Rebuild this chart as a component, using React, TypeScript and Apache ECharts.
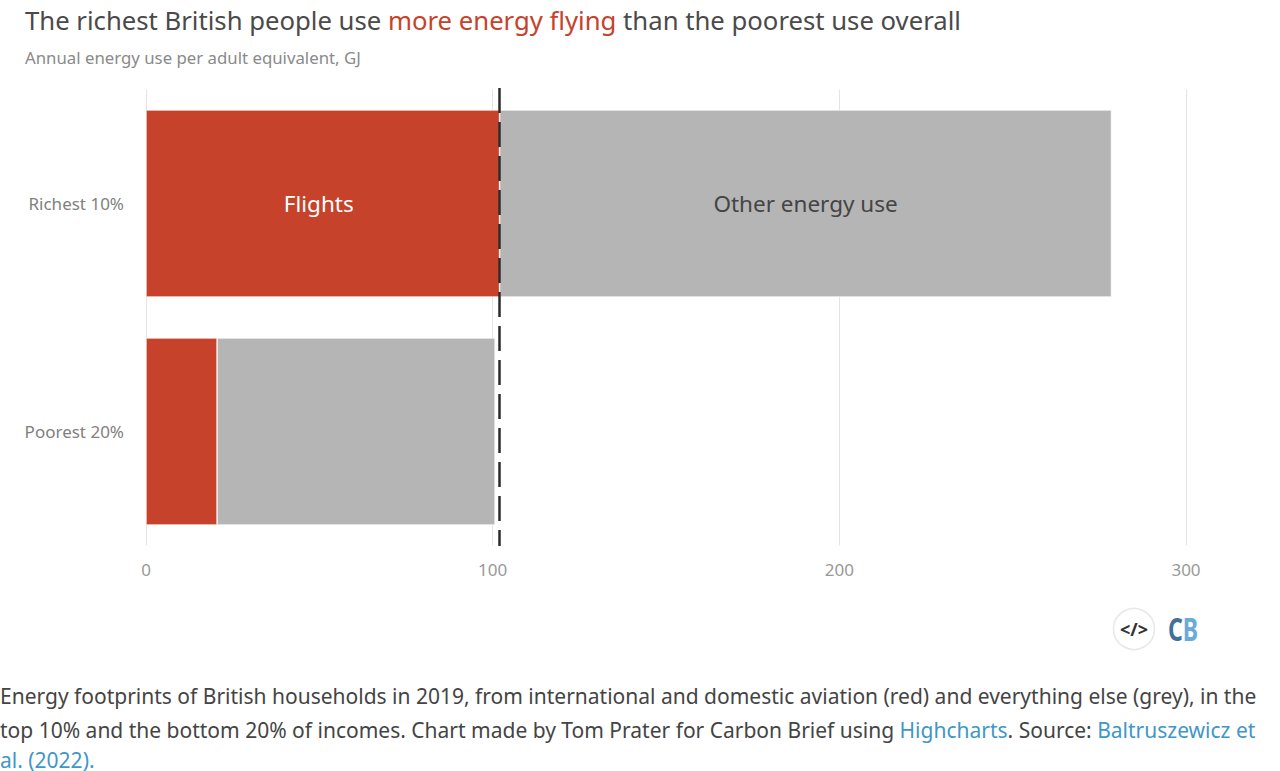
import React, { useEffect, useRef } from "react";
import * as echarts from "echarts";

const categories = ["Richest 10%", "Poorest 20%"];
const flights = [102, 20.5];
const otherEnergy = [176.5, 80.2];
const referenceValue = 102;
const xTicks = [0, 100, 200, 300];
const FONT = "'Noto Sans', sans-serif";

export default function App() {
  const ref = useRef<HTMLDivElement>(null);
  useEffect(() => {
    document.body.style.margin = "0";
    const chart = echarts.init(ref.current!, undefined, { renderer: "svg" });
    chart.setOption({
      animation: false,
      backgroundColor: "#ffffff",
      textStyle: { fontFamily: FONT },
      grid: { left: 146, right: 94, top: 89.5, bottom: 225.5, containLabel: false },
      xAxis: {
        type: "value",
        min: xTicks[0],
        max: xTicks[xTicks.length - 1],
        interval: 100,
        axisLine: { show: false },
        axisTick: { show: false },
        splitLine: { show: true, lineStyle: { color: "#e4e4e4", width: 1 } },
        axisLabel: { color: "#999999", fontSize: 17, fontFamily: FONT, margin: 15 },
      },
      yAxis: {
        type: "category",
        inverse: true,
        data: categories,
        axisLine: { show: false },
        axisTick: { show: false },
        axisLabel: { color: "#808080", fontSize: 17, fontFamily: FONT, margin: 22 },
      },
      series: [
        {
          name: "Flights",
          type: "bar",
          stack: "energy",
          barWidth: 187,
          data: [
            {
              value: flights[0],
              label: { show: true, position: "inside", formatter: "{a}", color: "#ffffff", fontSize: 22.5, fontFamily: FONT, offset: [-4, 0] },
            },
            flights[1],
          ],
          itemStyle: { color: "#c7422a", borderColor: "#ffffff", borderWidth: 0.6 },
          markLine: {
            silent: true,
            symbol: "none",
            label: { show: false },
            lineStyle: { color: "#2b2b2b", type: [25, 9], width: 2.5 },
            data: [[{ xAxis: referenceValue, y: 88 }, { xAxis: referenceValue, y: 546 }]],
          },
        },
        {
          name: "Other energy use",
          type: "bar",
          stack: "energy",
          barWidth: 187,
          data: [
            {
              value: otherEnergy[0],
              label: { show: true, position: "inside", formatter: "{a}", color: "#444444", fontSize: 22.5, fontFamily: FONT },
            },
            otherEnergy[1],
          ],
          itemStyle: { color: "#b5b5b5", borderColor: "#ffffff", borderWidth: 0.6 },
        },
      ],
      graphic: [
        {
          type: "text",
          x: 25,
          y: 7,
          style: {
            text: "{a|The richest British people use }{b|more energy flying}{a| than the poorest use overall}",
            rich: {
              a: { fill: "#4a4a4a", fontSize: 25.7, fontFamily: FONT },
              b: { fill: "#c7422a", fontSize: 25.7, fontFamily: FONT },
            },
          },
        },
        { type: "text", x: 25, y: 49, style: { text: "Annual energy use per adult equivalent, GJ", fill: "#8a8a8a", fontSize: 16.8, fontFamily: FONT } },
        { type: "circle", shape: { cx: 1134, cy: 629, r: 20.5 }, style: { fill: "#ffffff", stroke: "#e8e8e8", lineWidth: 1.5 } },
        { type: "text", x: 1134, y: 629, style: { text: "</>", fill: "#333333", fontSize: 18, fontWeight: "bold", fontFamily: FONT, align: "center", verticalAlign: "middle" } },
        {
          type: "text",
          x: 1168,
          y: 612,
          scaleX: 0.7,
          style: {
            text: "{c|C}{d|B}",
            rich: {
              c: { fill: "#3f7199", fontSize: 33, fontWeight: "bold", fontFamily: FONT },
              d: { fill: "#69abd9", fontSize: 33, fontWeight: "bold", fontFamily: FONT },
            },
          },
        },
        { type: "text", x: 0, y: 685, style: { text: "Energy footprints of British households in 2019, from international and domestic aviation (red) and everything else (grey), in the", fill: "#444444", fontSize: 21, fontFamily: FONT } },
        {
          type: "text",
          x: 0,
          y: 719,
          style: {
            text: "{t|top 10% and the bottom 20% of incomes. Chart made by Tom Prater for Carbon Brief using }{l|Highcharts}{t|. Source: }{l|Baltruszewicz et}",
            rich: {
              t: { fill: "#444444", fontSize: 21, fontFamily: FONT },
              l: { fill: "#3f97c8", fontSize: 21, fontFamily: FONT },
            },
          },
        },
        { type: "text", x: 0, y: 749, style: { text: "al. (2022).", fill: "#3f97c8", fontSize: 21, lineHeight: 21, fontFamily: FONT } },
      ],
    });
    return () => chart.dispose();
  }, []);
  return <div ref={ref} style={{ position: "absolute", left: 0, top: 0, width: 1280, height: 771, overflow: "hidden" }} />;
}
